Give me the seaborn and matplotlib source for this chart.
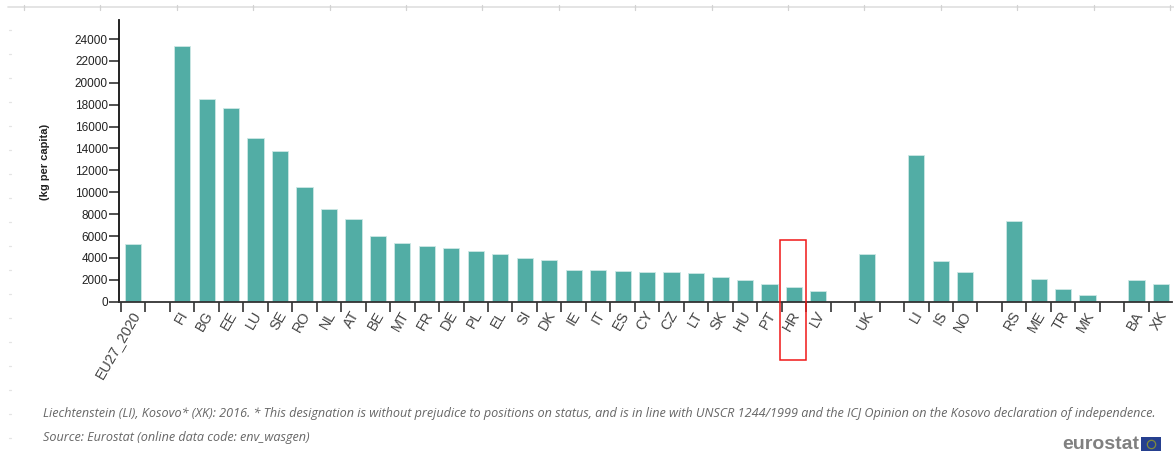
import numpy as np
import pandas as pd
import matplotlib
matplotlib.use('Agg')
import matplotlib.pyplot as plt
from matplotlib.lines import Line2D
from matplotlib.patches import Rectangle
from matplotlib.transforms import ScaledTranslation
import seaborn as sns

# Paises na ordem do grafico (vazios = espaco entre grupos)
paises = ['EU27_2020', ' ', 'FI', 'BG', 'EE', 'LU', 'SE', 'RO', 'NL', 'AT', 'BE', 'MT', 'FR', 'DE',
          'PL', 'EL', 'SI', 'DK', 'IE', 'IT', 'ES', 'CY', 'CZ', 'LT', 'SK', 'HU', 'PT', 'HR', 'LV',
          '  ', 'UK', '   ', 'LI', 'IS', 'NO', '    ', 'RS', 'ME', 'TR', 'MK', '     ', 'BA', 'XK']
valores = [5260, np.nan, 23360, 18550, 17660, 14950, 13740, 10480, 8510, 7540, 6010, 5330, 5120, 4920,
           4660, 4350, 4020, 3820, 2930, 2930, 2800, 2710, 2710, 2590, 2290, 1950, 1610, 1370, 970,
           np.nan, 4320, np.nan, 13410, 3680, 2710, np.nan, 7410, 2040, 1190, 640, np.nan, 1950, 1610]
yticks = list(range(0, 25000, 2000))
destaque = 'HR'

nota = ('Liechtenstein (LI), Kosovo* (XK): 2016. * This designation is without prejudice to positions '
        'on status, and is in line with UNSCR 1244/1999 and the ICJ Opinion on the Kosovo declaration '
        'of independence.')
fonte = 'Source: Eurostat (online data code: env_wasgen)'

W, H = 1174, 457
sns.set_theme(style='white')
plt.rcParams['font.family'] = ['Liberation Sans', 'DejaVu Sans']

df = pd.DataFrame({'pais': paises, 'valor': valores})

fig = plt.figure(figsize=(W / 100, H / 100), dpi=100)
ax = fig.add_axes([119 / W, 1 - 301.7 / H, (1172 - 119) / W, (301.7 - 20) / H])

sns.barplot(data=df, x='pais', y='valor', order=paises, color='#52ada5', saturation=1,
            width=0.66, edgecolor='#cde8e5', linewidth=0.6, ax=ax)

ax.set_xlabel('')
ax.set_ylabel('')

# Marcas nos limites de cada categoria, rotulos no centro
n = len(paises)
ax.set_xticks(np.arange(n) - 0.5, [''] * n)
ax.set_xticks(np.arange(n), paises, minor=True)
ax.set_xlim(-0.58, 42.45)
ax.tick_params(axis='x', which='major', length=7, width=1.1, color='#222222', bottom=True)
ax.tick_params(axis='x', which='minor', length=0, pad=7.5, labelsize=10.4, labelcolor='#444444', bottom=True)
deslocar = ScaledTranslation(2.2 / 72, 0, fig.dpi_scale_trans)
for t in ax.get_xticklabels(minor=True):
    t.set_rotation(60)
    t.set_ha('right')
    t.set_rotation_mode('anchor')
    t.set_va('center')
    t.set_transform(t.get_transform() + deslocar)

ax.set_yticks(yticks)
ax.set_ylim(0, 25736)
ax.tick_params(axis='y', length=7, width=1.1, color='#222222', labelsize=8.5, labelcolor='#222222', pad=1, left=True)

sns.despine(ax=ax)
ax.spines['left'].set_color('#111111')
ax.spines['left'].set_linewidth(1.3)
ax.spines['bottom'].set_color('#333333')
ax.spines['bottom'].set_linewidth(1.3)

fig.text(45 / W, 1 - 161.5 / H, '(kg per capita)', rotation=90, ha='center', va='center',
         fontsize=8, fontweight='bold', color='#222222')

# Retangulo vermelho em volta do pais destacado
i = paises.index(destaque)
ax.add_patch(Rectangle((i - 0.56, -5370), 1.06, 11020, fill=False, edgecolor='#f01818',
                       linewidth=1.1, clip_on=False, zorder=5))

# Regua cinza do topo e marcas da esquerda
fig.add_artist(Line2D([8 / W, 1], [1 - 6.5 / H] * 2, color='#e2e2e2', lw=1.3))
for x in np.arange(24, W, 76.4):
    fig.add_artist(Line2D([x / W] * 2, [1 - 5 / H, 1 - 9.5 / H], color='#d2d2d2', lw=0.9))
for y in np.arange(30, H - 15, 24):
    fig.add_artist(Line2D([9 / W, 11 / W], [1 - y / H] * 2, color='#e4e4e4', lw=0.9))

fig.text(43 / W, 1 - 414 / H, nota, fontsize=9.13, style='italic', family='Open Sans', color='#666666', va='center')
fig.text(43 / W, 1 - 438 / H, fonte, fontsize=9.13, style='italic', family='Open Sans', color='#666666', va='center')

# Logo
fig.text(1062 / W, 1 - 444.5 / H, 'eurostat', fontsize=14, fontweight='bold', color='#808080', va='center')
fig.add_artist(Rectangle((1141 / W, 1 - 451 / H), 20 / W, 14 / H, transform=fig.transFigure,
                         facecolor='#26408f', edgecolor='none'))
fig.add_artist(Line2D([1151 / W], [1 - 444 / H], marker='o', ms=6, mfc='none', mec='#7f8a3c', mew=0.9,
                      transform=fig.transFigure))

fig.savefig('out.png', dpi=100)
